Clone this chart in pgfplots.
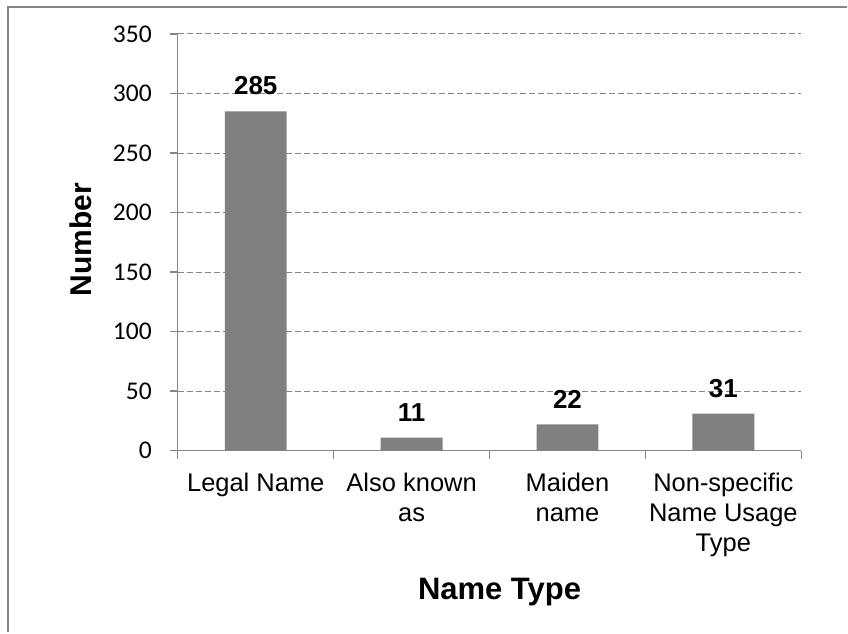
\documentclass[border=0pt]{standalone}
\usepackage{pgfplots}
\pgfplotsset{compat=1.18}
\usepackage{fontspec}
\setmainfont{Liberation Sans}
\newfontfamily\carlito{Carlito}
\definecolor{bargray}{RGB}{128,128,128}
\definecolor{axgray}{RGB}{134,134,134}
\begin{document}
\begin{tikzpicture}[x=1pt,y=1pt]
\path (0,0) rectangle (848,633);
\draw[axgray, line width=1.5pt] (8,0) -- (8,626) -- (848,626);
\begin{axis}[
  at={(178pt,182pt)}, anchor=south west,
  scale only axis, width=624pt, height=417pt,
  ymin=0, ymax=350, xmin=-0.5, xmax=3.5,
  ytick={0,50,100,150,200,250,300,350},
  yticklabels={0,50,100,150,200,250,300,350},
  xtick={0,1,2,3},
  xticklabels={{Legal Name},{Also known\\as},{Maiden\\name},{Non-specific\\Name Usage\\Type}},
  minor xtick={-0.5,0.5,1.5,2.5,3.5},
  axis x line*=bottom, axis y line*=left,
  axis line style={axgray, line width=1.2pt, -},
  tick align=outside,
  major tick length=8pt, minor tick length=8pt,
  every major x tick/.append style={draw=none},
  tick style={axgray, line width=1.2pt},
  ymajorgrids,
  major grid style={axgray, dash pattern=on 6pt off 3pt, line width=1pt},
  /pgf/number format/assume math mode=true,
  yticklabel style={font=\carlito\fontsize{25.5}{25.5}\selectfont, text=black, anchor=east, inner sep=0pt, xshift=-18pt},
  xticklabel style={font=\fontsize{25.5}{30}\selectfont, align=center, text=black, yshift=-11pt},
  xlabel={Name Type},
  ylabel={Number},
  xlabel style={font=\bfseries\fontsize{31}{31}\selectfont, at={(axis description cs:0.516,-0.357)}, anchor=base},
  ylabel style={font=\bfseries\fontsize{30}{30}\selectfont, at={(axis description cs:-0.138,0.506)}, anchor=base},
]
\addplot[ybar, fill=bargray, draw=none, bar width=62pt,
  nodes near coords,
  nodes near coords style={font=\bfseries\fontsize{26}{26}\selectfont, black, anchor=south, inner sep=0pt, yshift=16pt}]
  coordinates {(0,285) (1,11) (2,22) (3,31)};
\end{axis}
\end{tikzpicture}
\end{document}
